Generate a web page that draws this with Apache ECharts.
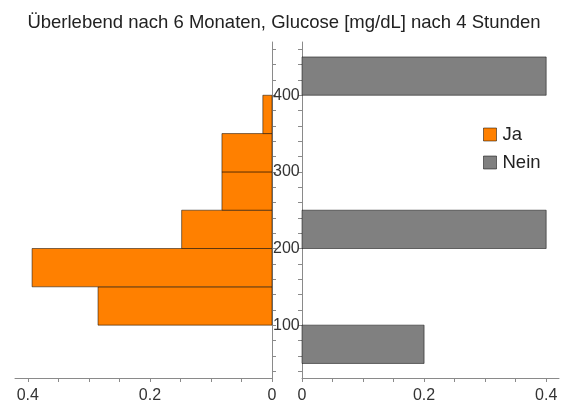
<!DOCTYPE html>
<html>
<head>
<meta charset="utf-8">
<script src="https://cdn.jsdelivr.net/npm/echarts@6/dist/echarts.min.js"></script>
<style>
  html, body { margin: 0; padding: 0; background: #fff; }
  #chart { width: 568px; height: 408px; }
</style>
</head>
<body>
<div id="chart"></div>
<script>
// histogram bins (glucose mg/dL) and relative frequencies
const jaBins = [[100, 150], [150, 200], [200, 250], [250, 300], [300, 350], [350, 400]];
const jaValues = [0.285, 0.393, 0.148, 0.082, 0.082, 0.015];
const neinBins = [[50, 100], [200, 250], [400, 450]];
const neinValues = [0.2, 0.4, 0.4];

const yLabelTicks = [100, 200, 300, 400];
const yMinorTicks = [40, 60, 80, 100, 120, 140, 160, 180, 200, 220, 240, 260, 280, 300, 320, 340, 360, 380, 400, 420, 440, 460];
const xLabelTicks = [0, 0.2, 0.4];
const xMinorTicks = [0, 0.05, 0.1, 0.15, 0.2, 0.25, 0.3, 0.35, 0.4];

const font = "'Liberation Sans', Arial, sans-serif";
const axisColor = "#8a8a8a";
const edge = "rgba(0,0,0,0.5)";

function toData(bins, values) {
  return bins.map((b, i) => [b[0], b[1], values[i]]);
}

function renderBar(params, api) {
  const lo = api.value(0), hi = api.value(1), v = api.value(2);
  const p1 = api.coord([0, lo]);
  const p2 = api.coord([v, hi]);
  return {
    type: "rect",
    shape: {
      x: Math.min(p1[0], p2[0]),
      y: Math.min(p1[1], p2[1]),
      width: Math.abs(p2[0] - p1[0]),
      height: Math.abs(p2[1] - p1[1])
    },
    style: {
      fill: api.visual("color"),
      stroke: edge,
      lineWidth: 1
    }
  };
}

const chart = echarts.init(document.getElementById("chart"));

const xAxisBase = {
  type: "value",
  min: 0,
  max: 0.421,
  axisLine: { lineStyle: { color: axisColor, width: 1 } },
  axisTick: { show: true, customValues: xMinorTicks, length: 4, lineStyle: { color: axisColor } },
  axisLabel: { customValues: xLabelTicks, color: "#333", fontSize: 16, fontFamily: font, margin: 10 },
  splitLine: { show: false }
};

const yAxisBase = {
  type: "value",
  min: 31,
  max: 469.5,
  axisLine: { show: true, onZero: false, lineStyle: { color: axisColor, width: 1 } },
  axisTick: { show: true, customValues: yMinorTicks, length: 4, lineStyle: { color: axisColor } },
  splitLine: { show: false }
};

chart.setOption({
  animation: false,
  backgroundColor: "#fff",
  title: {
    text: "Überlebend nach 6 Monaten, Glucose [mg/dL] nach 4 Stunden",
    left: "center",
    top: 8,
    textStyle: { fontSize: 18.5, fontWeight: "normal", color: "#222", fontFamily: font }
  },
  legend: {
    orient: "vertical",
    left: 478,
    top: 120,
    icon: "rect",
    itemWidth: 13,
    itemHeight: 13,
    itemGap: 9,
    itemStyle: { borderColor: edge, borderWidth: 1 },
    textStyle: { fontSize: 18.5, color: "#222", fontFamily: font, padding: [0, 0, 0, 1] },
    data: ["Ja", "Nein"]
  },
  grid: [
    { left: 15, right: 296, top: 42, bottom: 30, outerBoundsMode: "none" },
    { left: 302, right: 9, top: 42, bottom: 30, outerBoundsMode: "none" }
  ],
  xAxis: [
    Object.assign({}, xAxisBase, { gridIndex: 0, inverse: true }),
    Object.assign({}, xAxisBase, { gridIndex: 1 })
  ],
  yAxis: [
    Object.assign({}, yAxisBase, {
      gridIndex: 0,
      position: "right",
      axisLabel: { customValues: yLabelTicks, color: "#333", fontSize: 16, fontFamily: font, margin: 1 }
    }),
    Object.assign({}, yAxisBase, {
      gridIndex: 1,
      position: "left",
      axisLabel: { show: false }
    })
  ],
  series: [
    {
      name: "Ja",
      type: "custom",
      xAxisIndex: 0,
      yAxisIndex: 0,
      itemStyle: { color: "#ff8000" },
      renderItem: renderBar,
      encode: { x: 2, y: [0, 1] },
      data: toData(jaBins, jaValues)
    },
    {
      name: "Nein",
      type: "custom",
      xAxisIndex: 1,
      yAxisIndex: 1,
      itemStyle: { color: "#808080" },
      renderItem: renderBar,
      encode: { x: 2, y: [0, 1] },
      data: toData(neinBins, neinValues)
    }
  ]
});
</script>
</body>
</html>
